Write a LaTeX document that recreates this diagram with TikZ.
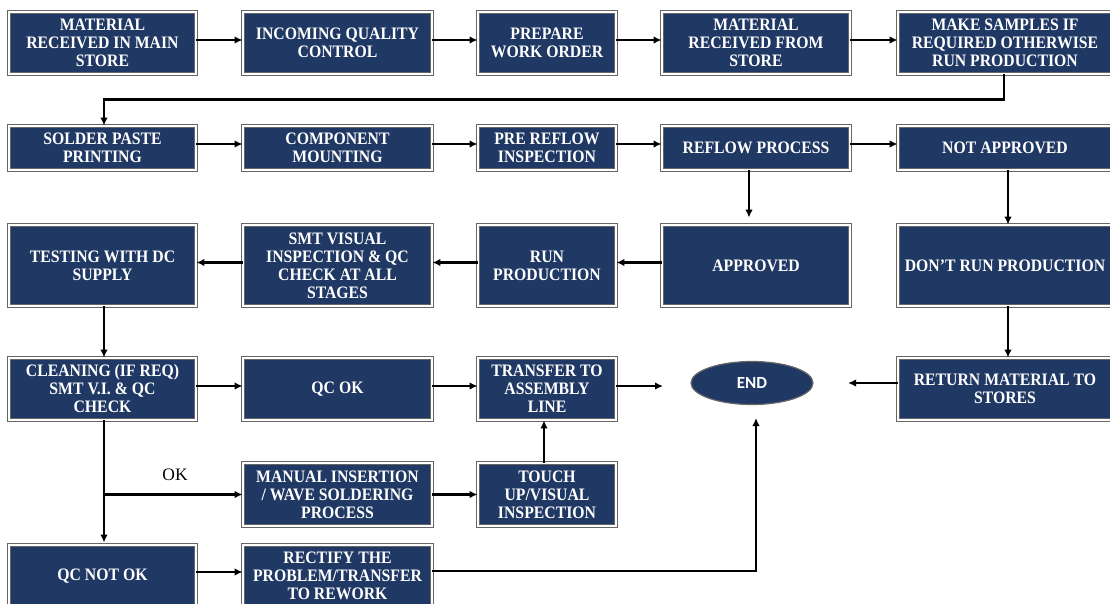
\documentclass[tikz,border=0pt]{standalone}
\usepackage{fontspec}
\setmainfont{Liberation Serif}
\newfontfamily\boxfont{Liberation Serif}[FakeStretch=0.9]
\newfontfamily\endfont{Carlito}
\usetikzlibrary{arrows.meta,calc,shapes.geometric}
\definecolor{navy}{RGB}{32,56,100}
\begin{document}
\begin{tikzpicture}[x=1pt,y=-1pt,
  box/.style={rectangle, fill=navy, draw=black!60, double=white, double distance=1.5pt, line width=0.8pt,
    inner sep=0pt, align=center, text=white, font=\boxfont\bfseries\fontsize{17.5}{18}\selectfont},
  endshape/.style={ellipse, fill=navy, draw=black!60, line width=1.2pt, inner sep=0pt,
    text=white, font=\endfont\bfseries\fontsize{17}{18}\selectfont},
  arr/.style={line width=2.2pt, -{Latex[length=8pt,width=7.5pt]}},
  lbl/.style={font=\fontsize{17.5}{18}\selectfont}]
\useasboundingbox (0,0) rectangle (1110,603);
% row 1
\node[box, minimum width=187pt, minimum height=62pt] (B1) at (102.5,43) {MATERIAL\\RECEIVED IN MAIN\\STORE};
\node[box, minimum width=189pt, minimum height=62pt] (B2) at (337.5,43) {INCOMING QUALITY\\CONTROL};
\node[box, minimum width=138pt, minimum height=62pt] (B3) at (547,43) {PREPARE\\WORK ORDER};
\node[box, minimum width=188pt, minimum height=62pt] (B4) at (756,43) {MATERIAL\\RECEIVED FROM\\STORE};
\node[box, minimum width=214pt, minimum height=62pt] (B5) at (1005,43) {MAKE SAMPLES IF\\REQUIRED OTHERWISE\\RUN PRODUCTION};
% row 2
\node[box, minimum width=187pt, minimum height=44pt] (C1) at (102.5,148) {SOLDER PASTE\\PRINTING};
\node[box, minimum width=189pt, minimum height=44pt] (C2) at (337.5,148) {COMPONENT\\MOUNTING};
\node[box, minimum width=138pt, minimum height=44pt] (C3) at (547,148) {PRE REFLOW\\INSPECTION};
\node[box, minimum width=188pt, minimum height=44pt] (C4) at (756,148) {REFLOW PROCESS};
\node[box, minimum width=214pt, minimum height=44pt] (C5) at (1005,148) {NOT APPROVED};
% row 3
\node[box, minimum width=187pt, minimum height=81pt] (D1) at (102.5,265.5) {TESTING WITH DC\\SUPPLY};
\node[box, minimum width=189pt, minimum height=81pt] (D2) at (337.5,265.5) {SMT VISUAL\\INSPECTION \& QC\\CHECK AT ALL\\STAGES};
\node[box, minimum width=138pt, minimum height=81pt] (D3) at (547,265.5) {RUN\\PRODUCTION};
\node[box, minimum width=188pt, minimum height=81pt] (D4) at (756,265.5) {APPROVED};
\node[box, minimum width=214pt, minimum height=81pt] (D5) at (1005,265.5) {DON’T RUN PRODUCTION};
% row 4
\node[box, minimum width=187pt, minimum height=62pt] (E1) at (102.5,389) {CLEANING (IF REQ)\\SMT V.I. \& QC\\CHECK};
\node[box, minimum width=189pt, minimum height=62pt] (E2) at (337.5,389) {QC OK};
\node[box, minimum width=138pt, minimum height=62pt] (E3) at (547,389) {TRANSFER TO\\ASSEMBLY\\LINE};
\node[endshape, minimum width=122pt, minimum height=43pt] (END) at (752,383) {END};
\node[box, minimum width=214pt, minimum height=62pt] (E5) at (1005,389) {RETURN MATERIAL TO\\STORES};
% row 5
\node[box, minimum width=189pt, minimum height=63pt] (F2) at (337.5,494.5) {MANUAL INSERTION\\/ WAVE SOLDERING\\PROCESS};
\node[box, minimum width=138pt, minimum height=63pt] (F3) at (547,494.5) {TOUCH\\UP/VISUAL\\INSPECTION};
% row 6
\node[box, minimum width=187pt, minimum height=62pt] (G1) at (102.5,576) {QC NOT OK};
\node[box, minimum width=189pt, minimum height=62pt] (G2) at (337.5,576) {RECTIFY THE\\PROBLEM/TRANSFER\\TO REWORK};
% connectors row 1
\draw[arr] ([yshift=3pt]B1.east) -- ([yshift=3pt]B2.west);
\draw[arr] ([yshift=3pt]B2.east) -- ([yshift=3pt]B3.west);
\draw[arr] ([yshift=3pt]B3.east) -- ([yshift=3pt]B4.west);
\draw[arr] ([yshift=3pt]B4.east) -- ([yshift=3pt]B5.west);
\draw[arr] ([xshift=-1pt]B5.south) -- ++(0,25) -| ([xshift=1.5pt]C1.north);
% row 2
\draw[arr] ([yshift=4pt]C1.east) -- ([yshift=4pt]C2.west);
\draw[arr] ([yshift=4pt]C2.east) -- ([yshift=4pt]C3.west);
\draw[arr] ([yshift=4pt]C3.east) -- ([yshift=4pt]C4.west);
\draw[arr] ([yshift=4pt]C4.east) -- ([yshift=4pt]C5.west);
\draw[arr, shorten >=7pt] ([xshift=-7pt]C4.south) -- ([xshift=-7pt]D4.north);
\draw[arr] ([xshift=3pt]C5.south) -- ([xshift=3pt]D5.north);
% row 3
\draw[arr] ([yshift=3pt]D4.west) -- ([yshift=3pt]D3.east);
\draw[arr] ([yshift=3pt]D3.west) -- ([yshift=3pt]D2.east);
\draw[arr] ([yshift=3pt]D2.west) -- ([yshift=3pt]D1.east);
\draw[arr] ([xshift=1.5pt]D1.south) -- ([xshift=1.5pt]E1.north);
\draw[arr] ([xshift=3pt]D5.south) -- ([xshift=3pt]E5.north);
% row 4
\draw[arr] ([yshift=3pt]E1.east) -- ([yshift=3pt]E2.west);
\draw[arr] ([yshift=3pt]E2.east) -- ([yshift=3pt]E3.west);
\coordinate (tl) at (663,386);
\draw[arr] ([yshift=3pt]E3.east) -- (tl);
\coordinate (tr) at (848,383);
\draw[arr] ([yshift=6pt]E5.west) -- (tr);
% lower part
\draw[arr, shorten >=2pt] ([xshift=1.5pt]E1.south) -- ([xshift=1.5pt]G1.north);
\coordinate (br) at ([xshift=1.5pt]E1.south |- F2.west);
\draw[arr] (br) -- (F2.west);
\node[lbl] (ok) at (175,475) {OK};
\draw[arr] (F2.east) -- (F3.west);
\draw[arr] ([xshift=-3pt]F3.north) -- ([xshift=-3pt]E3.south);
\draw[arr] ([yshift=4pt]G1.east) -- ([yshift=4pt]G2.west);
\coordinate (tb) at (756,418);
\draw[arr] ([yshift=5pt]G2.east) -| (tb);
\end{tikzpicture}
\end{document}
